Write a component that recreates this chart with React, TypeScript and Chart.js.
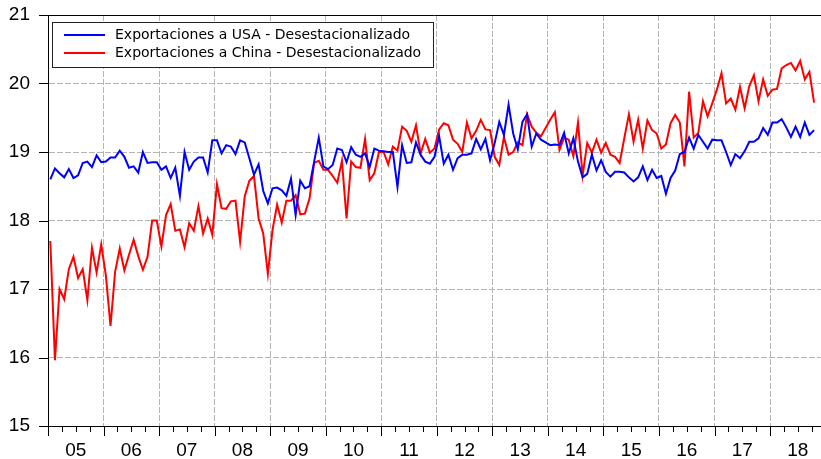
import React, { useEffect, useRef } from "react";
import { Chart, registerables } from "chart.js";

Chart.register(...registerables);

const FIRST_YEAR = 2005;
const yearLabels = ["05", "06", "07", "08", "09", "10", "11", "12", "13", "14", "15", "16", "17", "18"];
const yTicks = [15, 16, 17, 18, 19, 20, 21];

const seriesNames = [
  "Exportaciones a USA - Desestacionalizado",
  "Exportaciones a China - Desestacionalizado",
];

// Monthly values, Jan 2005 .. Oct 2018
const usaValues = [
  18.60, 18.76, 18.69, 18.63, 18.75, 18.62, 18.66, 18.84, 18.86, 18.78, 18.95, 18.85,
  18.86, 18.92, 18.92, 19.02, 18.93, 18.77, 18.79, 18.70, 19.00, 18.84, 18.85, 18.85,
  18.74, 18.79, 18.62, 18.77, 18.36, 19.00, 18.74, 18.86, 18.92, 18.92, 18.70, 19.17,
  19.17, 18.98, 19.10, 19.08, 18.97, 19.17, 19.14, 18.91, 18.67, 18.82, 18.43, 18.25,
  18.47, 18.48, 18.44, 18.36, 18.61, 18.08, 18.58, 18.47, 18.50, 18.86, 19.21, 18.79,
  18.75, 18.81, 19.05, 19.03, 18.85, 19.07, 18.96, 18.93, 18.98, 18.78, 19.05, 19.02,
  19.01, 19.00, 19.00, 18.49, 19.10, 18.84, 18.85, 19.14, 18.96, 18.86, 18.83, 18.93,
  19.23, 18.83, 18.96, 18.74, 18.91, 18.96, 18.96, 18.98, 19.19, 19.04, 19.19, 18.88,
  19.13, 19.44, 19.25, 19.69, 19.27, 19.04, 19.44, 19.55, 19.08, 19.27, 19.18, 19.14,
  19.10, 19.11, 19.10, 19.28, 18.98, 19.20, 18.86, 18.63, 18.68, 18.96, 18.73, 18.88,
  18.71, 18.64, 18.71, 18.71, 18.70, 18.63, 18.57, 18.63, 18.79, 18.59, 18.74, 18.62,
  18.65, 18.39, 18.62, 18.73, 18.97, 19.00, 19.21, 19.05, 19.25, 19.15, 19.05, 19.18,
  19.17, 19.17, 19.00, 18.81, 18.97, 18.91, 19.01, 19.15, 19.15, 19.20, 19.35, 19.25,
  19.43, 19.43, 19.48, 19.36, 19.22, 19.37, 19.22, 19.43, 19.25, 19.32,
];

const chinaValues = [
  17.70, 15.96, 17.00, 16.85, 17.29, 17.47, 17.16, 17.29, 16.84, 17.60, 17.24, 17.65,
  17.20, 16.46, 17.25, 17.59, 17.27, 17.50, 17.72, 17.48, 17.28, 17.47, 18.00, 18.00,
  17.62, 18.08, 18.24, 17.85, 17.87, 17.61, 17.96, 17.85, 18.21, 17.81, 18.03, 17.79,
  18.53, 18.18, 18.17, 18.28, 18.29, 17.69, 18.35, 18.58, 18.65, 18.03, 17.81, 17.22,
  17.86, 18.23, 17.97, 18.29, 18.29, 18.37, 18.09, 18.10, 18.32, 18.84, 18.87, 18.74,
  18.74, 18.65, 18.55, 18.87, 18.03, 18.86, 18.78, 18.77, 19.19, 18.59, 18.69, 19.00,
  19.00, 18.82, 19.08, 19.02, 19.37, 19.31, 19.15, 19.39, 18.98, 19.19, 18.99, 19.05,
  19.33, 19.42, 19.39, 19.18, 19.12, 19.00, 19.43, 19.20, 19.31, 19.47, 19.33, 19.32,
  18.93, 18.81, 19.22, 18.96, 19.00, 19.14, 19.10, 19.55, 19.37, 19.28, 19.23, 19.35,
  19.47, 19.58, 19.03, 19.21, 19.18, 18.94, 19.43, 18.66, 19.13, 18.99, 19.18, 18.99,
  19.13, 18.96, 18.93, 18.84, 19.20, 19.55, 19.15, 19.47, 19.05, 19.46, 19.32, 19.27,
  19.05, 19.11, 19.42, 19.54, 19.43, 18.79, 19.88, 19.21, 19.28, 19.74, 19.52, 19.71,
  19.91, 20.15, 19.71, 19.78, 19.62, 19.95, 19.64, 19.96, 20.12, 19.74, 20.06, 19.82,
  19.91, 19.92, 20.22, 20.27, 20.30, 20.19, 20.33, 20.06, 20.17, 19.72,
];

const seriesColors = ["#0000ff", "#ff0000"];
const X_MAX_MONTHS = 167;

const toPoints = (vals: number[]) => vals.map((v, i) => ({ x: i + 0.5, y: v }));

const framePlugin = {
  id: "framePlugin",
  afterDraw(chart: any) {
    const { ctx, chartArea, scales } = chart;
    const { left, right, top, bottom } = chartArea;
    const xs = scales.x;
    const ys = scales.y;
    ctx.save();
    ctx.strokeStyle = "#000";
    ctx.lineWidth = 1;
    ctx.setLineDash([]);
    ctx.beginPath();
    // top border
    ctx.moveTo(left, top + 0.5);
    ctx.lineTo(right, top + 0.5);
    // x ticks (quarterly, longer at year boundaries)
    for (let v = 0; v <= X_MAX_MONTHS; v += 3) {
      const px = Math.round(xs.getPixelForValue(v)) + 0.5;
      const len = v % 12 === 0 ? 10 : 6;
      ctx.moveTo(px, bottom);
      ctx.lineTo(px, bottom + len);
    }
    // y ticks
    yTicks.forEach((t) => {
      const py = Math.round(ys.getPixelForValue(t)) + 0.5;
      ctx.moveTo(left - 9, py);
      ctx.lineTo(left, py);
    });
    ctx.stroke();

    // legend
    const bx = 52.5, by = 22.5, bw = 381, bh = 45;
    ctx.fillStyle = "#ffffff";
    ctx.fillRect(bx, by, bw, bh);
    ctx.strokeStyle = "#222";
    ctx.lineWidth = 1;
    ctx.strokeRect(bx, by, bw, bh);
    ctx.font = '14px "DejaVu Sans"';
    ctx.textBaseline = "middle";
    ctx.textAlign = "left";
    chart.data.datasets.forEach((ds: any, i: number) => {
      const ly = 35 + i * 18;
      ctx.strokeStyle = ds.borderColor;
      ctx.lineWidth = 2;
      ctx.beginPath();
      ctx.moveTo(64, ly);
      ctx.lineTo(105, ly);
      ctx.stroke();
      ctx.fillStyle = "#000";
      ctx.fillText(ds.label, 115, ly + 0.5);
    });
    ctx.restore();
  },
};

export default function App() {
  const canvasRef = useRef<HTMLCanvasElement | null>(null);

  useEffect(() => {
    const canvas = canvasRef.current;
    if (!canvas) return;
    const chart = new Chart(canvas, {
      type: "line",
      data: {
        datasets: [
          {
            label: seriesNames[0],
            data: toPoints(usaValues),
            borderColor: seriesColors[0],
            backgroundColor: seriesColors[0],
            borderWidth: 2,
            pointRadius: 0,
            tension: 0,
          },
          {
            label: seriesNames[1],
            data: toPoints(chinaValues),
            borderColor: seriesColors[1],
            backgroundColor: seriesColors[1],
            borderWidth: 2,
            pointRadius: 0,
            tension: 0,
          },
        ],
      },
      options: {
        animation: false,
        responsive: false,
        maintainAspectRatio: false,
        layout: { padding: { top: 15, left: 0, right: 0, bottom: 0 } },
        plugins: {
          legend: { display: false },
          tooltip: { enabled: false },
        },
        scales: {
          x: {
            type: "linear",
            min: 0,
            max: X_MAX_MONTHS,
            afterBuildTicks: (scale: any) => {
              const t = [];
              for (let v = 0; v <= X_MAX_MONTHS; v += 3) t.push({ value: v });
              scale.ticks = t;
            },
            afterFit: (scale: any) => {
              scale.height = 33;
              scale.paddingLeft = 0;
              scale.paddingRight = 0;
            },
            ticks: {
              autoSkip: false,
              maxRotation: 0,
              minRotation: 0,
              padding: 13,
              color: "#000",
              font: { family: '"Liberation Sans", Arial, sans-serif', size: 19 },
              callback: (value: any) => {
                const v = Number(value);
                if (v % 12 !== 6) return "";
                const idx = (v - 6) / 12;
                return yearLabels[idx] ?? String((FIRST_YEAR + idx) % 100).padStart(2, "0");
              },
            },
            grid: {
              drawTicks: false,
              lineWidth: 1,
              color: (ctx: any) =>
                ctx.tick && ctx.tick.value % 12 === 0 && ctx.tick.value > 0 ? "#b4b4b4" : "rgba(0,0,0,0)",
            },
            border: { display: true, color: "#000", width: 1, dash: [6, 2] },
          },
          y: {
            type: "linear",
            min: 15,
            max: 21,
            afterBuildTicks: (scale: any) => {
              scale.ticks = yTicks.map((v) => ({ value: v }));
            },
            afterFit: (scale: any) => {
              scale.width = 48;
              scale.paddingTop = 0;
              scale.paddingBottom = 0;
            },
            ticks: {
              padding: 18,
              color: "#000",
              font: { family: '"Liberation Sans", Arial, sans-serif', size: 19 },
              callback: (value: any) => String(value),
            },
            grid: {
              drawTicks: false,
              lineWidth: 1,
              color: (ctx: any) =>
                ctx.tick && ctx.tick.value > 15 && ctx.tick.value < 21 ? "#b4b4b4" : "rgba(0,0,0,0)",
            },
            border: { display: true, color: "#000", width: 1, dash: [6, 2] },
          },
        },
      },
      plugins: [framePlugin],
    });
    return () => chart.destroy();
  }, []);

  return (
    <div style={{ position: "fixed", left: 0, top: 0, width: 821, height: 459, background: "#fff" }}>
      <canvas ref={canvasRef} width={821} height={459} style={{ display: "block", width: 821, height: 459 }} />
    </div>
  );
}
